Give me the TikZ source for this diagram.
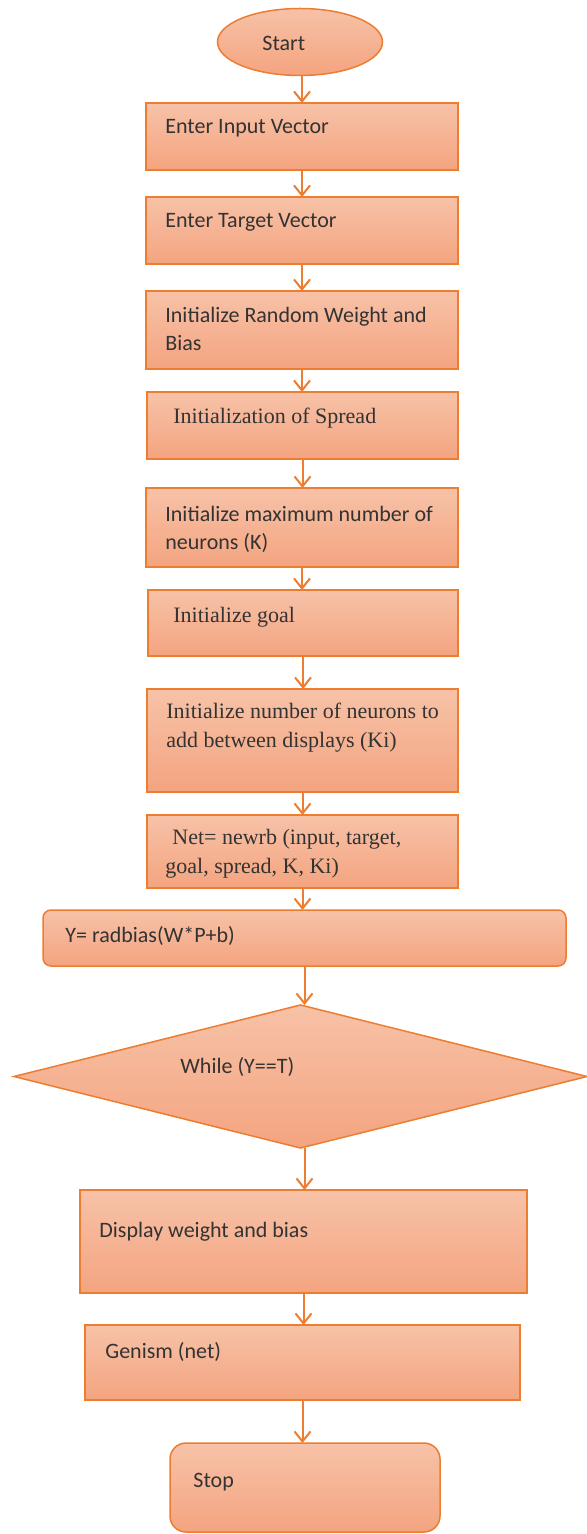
\documentclass[tikz,border=0pt]{standalone}
\usepackage{fontspec}
\setmainfont{Carlito}
\newfontfamily\timesf{Liberation Serif}
\usetikzlibrary{shapes.geometric,arrows.meta,fit}
\definecolor{edgeor}{HTML}{ED7D31}
\definecolor{topf}{HTML}{F7C2A8}
\definecolor{botf}{HTML}{F4A47F}
\definecolor{txt}{HTML}{333333}
\begin{document}
\begin{tikzpicture}[x=0.5pt,y=-0.5pt,
  flowbox/.style={draw=edgeor, line width=0.75pt, top color=topf, bottom color=botf, inner sep=0pt, outer sep=0pt},
  lbl/.style={anchor=west, inner sep=0pt, text=txt, font=\fontsize{11}{14}\selectfont, align=left},
  slbl/.style={lbl, font=\timesf\fontsize{11}{14.5}\selectfont},
  arr/.style={draw=edgeor, line width=1pt, -{Straight Barb[length=5pt,width=8pt,line width=1pt]}}]
\useasboundingbox (0,0) rectangle (587,1534);
% boxes
\node[flowbox, ellipse, minimum width=82.5pt, minimum height=33.5pt] (start) at (300,42) {};
\node[flowbox, fit={(146,103)(458,170)}] (b1) {};
\node[flowbox, fit={(146,197)(458,264)}] (b2) {};
\node[flowbox, fit={(146,291)(458,369)}] (b3) {};
\node[flowbox, fit={(147,392)(458,459)}] (b4) {};
\node[flowbox, fit={(146,488)(458,567)}] (b5) {};
\node[flowbox, fit={(148,590)(458,656)}] (b6) {};
\node[flowbox, fit={(147,689)(458,792)}] (b7) {};
\node[flowbox, fit={(147,815)(458,888)}] (b8) {};
\node[flowbox, rounded corners=4pt, fit={(43,910)(566,966)}] (yb) {};
\node[flowbox, diamond, minimum width=286.5pt, minimum height=71.5pt] (dia) at (300.5,1076.5) {};
\node[flowbox, fit={(80,1190)(527,1293)}] (disp) {};
\node[flowbox, fit={(85,1325)(520,1400)}] (gen) {};
\node[flowbox, rounded corners=8pt, fit={(170,1443)(440,1532)}] (stop) {};
% texts
\node[lbl] (tstart) at (262,43) {Start};
\node[lbl] (t1) at (165,128) {Enter Input Vector};
\node[lbl] (t2) at (165,222) {Enter Target Vector};
\node[lbl] (t3) at (165,329) {Initialize Random Weight and\\Bias};
\node[slbl] (t4) at (173,418) {Initialization of Spread};
\node[lbl] (t5) at (165,529) {Initialize maximum number of\\neurons (K)};
\node[slbl] (t6) at (173,617) {Initialize goal};
\node[slbl] (t7) at (166,728) {Initialize number of neurons to\\add between displays (Ki)};
\node[slbl] (t8) at (165,854) {\hspace*{3.5pt}Net= newrb (input, target,\\goal, spread, K, Ki)};
\node[lbl] (ty) at (65,936) {Y= radbias(W*P+b)};
\node[lbl] (td) at (180,1067) {While (Y==T)};
\node[lbl] (tdisp) at (99,1232) {Display weight and bias};
\node[lbl] (tgen) at (105,1352) {Genism (net)};
\node[lbl] (tstop) at (193,1482) {Stop};
% connectors
\draw[arr] (start.south -| b1.north) -- (b1.north);
\draw[arr] (b1.south) -- (b1.south |- b2.north);
\draw[arr] (b2.south) -- (b2.south |- b3.north);
\draw[arr] (b3.south) -- (b3.south |- b4.north);
\draw[arr] (b4.south) -- (b4.south |- b5.north);
\draw[arr] (b5.south) -- (b5.south |- b6.north);
\draw[arr] (b6.south) -- (b6.south |- b7.north);
\draw[arr] (b7.south) -- (b7.south |- b8.north);
\draw[arr] (b8.south) -- (b8.south |- yb.north);
\draw[arr] (yb.south) -- (yb.south |- dia.north);
\draw[arr] (dia.south -| yb.south) -- (yb.south |- disp.north);
\draw[arr] (disp.south) -- (disp.south |- gen.north);
\draw[arr] (gen.south) -- (gen.south |- stop.north);
\end{tikzpicture}
\end{document}
